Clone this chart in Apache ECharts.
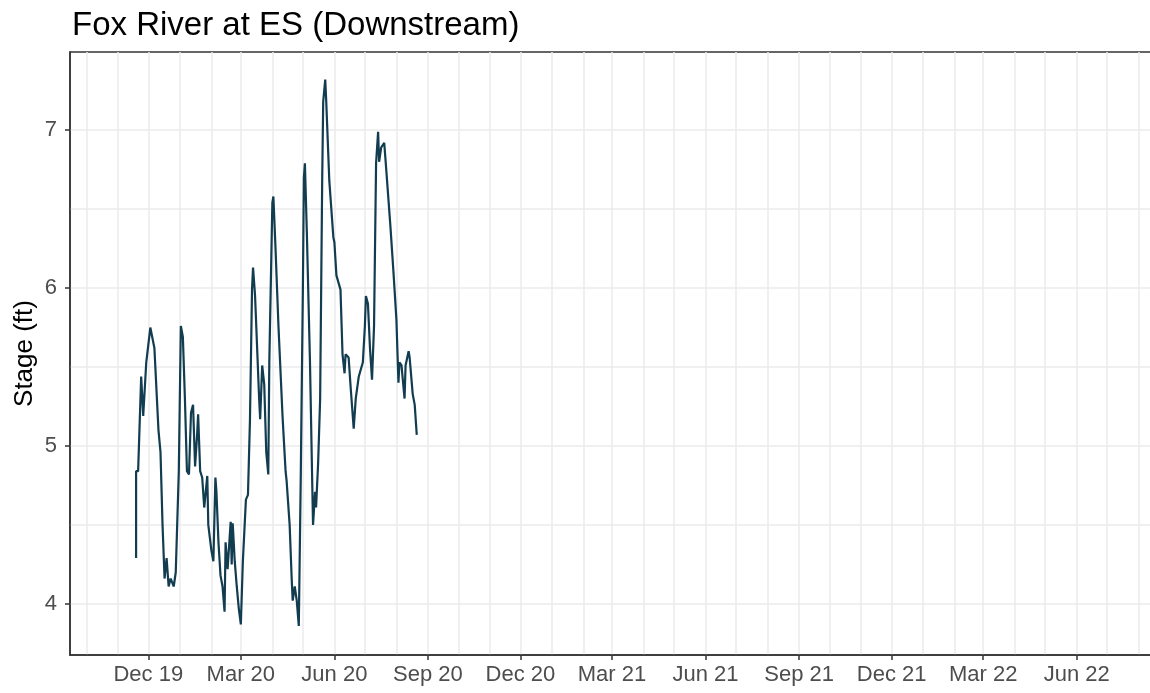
<!DOCTYPE html>
<html>
<head>
<meta charset="utf-8">
<title>Fox River at ES (Downstream)</title>
<script src="https://cdn.jsdelivr.net/npm/echarts@6/dist/echarts.min.js"></script>
<style>
    html, body { margin: 0; padding: 0; background: #fff; overflow: hidden; }
    /* a bit wider than the window so the panel runs off the right edge, as in the original */
    #chart { width: 1160px; height: 693px; }
</style>
</head>
<body>
<div id="chart"></div>
<script type="text/javascript">
// stage readings (ft)
var dates = [
    '2019-11-19', '2019-11-19', '2019-11-21', '2019-11-24', '2019-11-26', '2019-11-29',
    '2019-12-03', '2019-12-07', '2019-12-11', '2019-12-13', '2019-12-15', '2019-12-17',
    '2019-12-19', '2019-12-21', '2019-12-23', '2019-12-26', '2019-12-28', '2019-12-31',
    '2020-01-02', '2020-01-04', '2020-01-06', '2020-01-08', '2020-01-10', '2020-01-12',
    '2020-01-14', '2020-01-16', '2020-01-18', '2020-01-19', '2020-01-21', '2020-01-23',
    '2020-01-25', '2020-01-28', '2020-01-29', '2020-02-01', '2020-02-03', '2020-02-05',
    '2020-02-06', '2020-02-08', '2020-02-10', '2020-02-12', '2020-02-14', '2020-02-15',
    '2020-02-17', '2020-02-20', '2020-02-21', '2020-02-22', '2020-02-24', '2020-02-26',
    '2020-02-28', '2020-03-01', '2020-03-03', '2020-03-06', '2020-03-08', '2020-03-10',
    '2020-03-12', '2020-03-13', '2020-03-15', '2020-03-19', '2020-03-20', '2020-03-22',
    '2020-03-24', '2020-03-26', '2020-03-28', '2020-03-29', '2020-04-01', '2020-04-02',
    '2020-04-04', '2020-04-07', '2020-04-11', '2020-04-14', '2020-04-15', '2020-04-18',
    '2020-04-20', '2020-04-21', '2020-04-23', '2020-04-25', '2020-04-27', '2020-04-29',
    '2020-05-01', '2020-05-02', '2020-05-03', '2020-05-05', '2020-05-08', '2020-05-10',
    '2020-05-11', '2020-05-13', '2020-05-14', '2020-05-16', '2020-05-18', '2020-05-20',
    '2020-05-21', '2020-05-23', '2020-05-24', '2020-05-27', '2020-05-31', '2020-06-01',
    '2020-06-03', '2020-06-07', '2020-06-09', '2020-06-11', '2020-06-12', '2020-06-15',
    '2020-06-17', '2020-06-20', '2020-06-22', '2020-06-25', '2020-06-29', '2020-07-01',
    '2020-07-02', '2020-07-04', '2020-07-06', '2020-07-08', '2020-07-10', '2020-07-12',
    '2020-07-14', '2020-07-15', '2020-07-17', '2020-07-20', '2020-07-22', '2020-07-26',
    '2020-07-29', '2020-08-01', '2020-08-03', '2020-08-04', '2020-08-06', '2020-08-09',
    '2020-08-10', '2020-08-13', '2020-08-14', '2020-08-17', '2020-08-19', '2020-08-21'
];
var stage = [
    4.29, 4.84, 4.84, 5.44, 5.19, 5.53,
    5.75, 5.62, 5.10, 4.96, 4.50, 4.16,
    4.29, 4.11, 4.16, 4.11, 4.20, 4.84,
    5.76, 5.69, 5.30, 4.84, 4.82, 5.21,
    5.26, 4.87, 5.07, 5.20, 4.84, 4.80,
    4.61, 4.81, 4.50, 4.34, 4.27, 4.80,
    4.71, 4.39, 4.18, 4.11, 3.95, 4.39,
    4.22, 4.52, 4.25, 4.51, 4.27, 4.11,
    3.97, 3.87, 4.27, 4.66, 4.69, 5.17,
    5.99, 6.13, 5.95, 5.30, 5.17, 5.51,
    5.39, 4.96, 4.82, 5.53, 6.54, 6.58,
    6.27, 5.76, 5.19, 4.84, 4.78, 4.50,
    4.16, 4.02, 4.11, 4.02, 3.86, 4.84,
    5.99, 6.70, 6.79, 6.33, 5.53, 4.84,
    4.50, 4.71, 4.61, 4.89, 5.30, 6.68,
    7.18, 7.32, 7.18, 6.68, 6.32, 6.29,
    6.08, 5.99, 5.58, 5.46, 5.58, 5.56,
    5.37, 5.11, 5.30, 5.44, 5.53, 5.76,
    5.95, 5.90, 5.62, 5.42, 5.76, 6.79,
    6.99, 6.80, 6.89, 6.92, 6.75, 6.40,
    6.11, 5.80, 5.40, 5.53, 5.51, 5.30,
    5.51, 5.60, 5.56, 5.33, 5.26, 5.07
];

// axis ticks
var xTickDates = ['2019-12-01', '2020-03-01', '2020-06-01', '2020-09-01', '2020-12-01', '2021-03-01',
                  '2021-06-01', '2021-09-01', '2021-12-01', '2022-03-01', '2022-06-01'];
var xTickLabels = ['Dec 19', 'Mar 20', 'Jun 20', 'Sep 20', 'Dec 20', 'Mar 21',
                   'Jun 21', 'Sep 21', 'Dec 21', 'Mar 22', 'Jun 22'];
var xMin = '2019-09-15', xMax = '2022-08-17';
var yTicks = [4, 5, 6, 7];
var yGrid = [4, 4.5, 5, 5.5, 6, 6.5, 7];
var yMin = 3.676, yMax = 7.495;

function toTime(s) {
    var p = s.split('-');
    return new Date(+p[0], +p[1] - 1, +p[2]).getTime();
}

// monthly gridlines, Oct 2019 .. Aug 2022
var monthGrid = [];
for (var y = 2019, m = 9; y < 2022 || (y === 2022 && m <= 7); m++) {
    if (m > 11) { m = 0; y++; }
    monthGrid.push(new Date(y, m, 1).getTime());
}

var majorTimes = xTickDates.map(toTime);
var labelOf = {};
majorTimes.forEach(function (t, i) { labelOf[t] = xTickLabels[i]; });

var seriesData = dates.map(function (d, i) { return [toTime(d), stage[i]]; });

var FONT = "'Liberation Sans', Arial, sans-serif";
var AXIS_COLOR = '#333333';
var GRID_COLOR = '#ebebeb';

var chart = echarts.init(document.getElementById('chart'), null, { renderer: 'canvas' });

var option = {
    animation: false,
    backgroundColor: '#ffffff',
    title: {
        text: 'Fox River at ES (Downstream)',
        left: 67,
        top: 4,
        textStyle: { fontFamily: FONT, fontSize: 33, fontWeight: 'normal', color: '#000' }
    },
    grid: {
        left: 70, top: 52, right: 5, bottom: 38,
        show: true, borderColor: AXIS_COLOR, borderWidth: 1.5, backgroundColor: '#fff'
    },
    xAxis: [{
        type: 'value',
        min: toTime(xMin), max: toTime(xMax),
        axisLine: { show: true, onZero: false, lineStyle: { color: AXIS_COLOR, width: 1.5 } },
        axisTick: { show: true, length: 5, lineStyle: { color: AXIS_COLOR, width: 1.5 }, customValues: majorTimes },
        axisLabel: {
            customValues: majorTimes,
            margin: 9,
            color: '#4d4d4d', fontFamily: FONT, fontSize: 22,
            formatter: function (v) { return labelOf[v] || ''; }
        },
        splitLine: { show: false }
    }, {
        type: 'value',
        min: toTime(xMin), max: toTime(xMax),
        axisLine: { show: false },
        axisTick: { show: false, customValues: monthGrid },
        axisLabel: { show: false },
        splitLine: { show: true, lineStyle: { color: GRID_COLOR, width: 1.5 } }
    }],
    yAxis: [{
        type: 'value',
        min: yMin, max: yMax,
        name: 'Stage (ft)',
        nameLocation: 'middle',
        nameGap: 32,
        nameMoveOverlap: false,
        nameTextStyle: { fontFamily: FONT, fontSize: 26, color: '#000' },
        axisLine: { show: true, onZero: false, lineStyle: { color: AXIS_COLOR, width: 1.5 } },
        axisTick: { show: true, length: 5, lineStyle: { color: AXIS_COLOR, width: 1.5 }, customValues: yTicks },
        axisLabel: { customValues: yTicks, margin: 13, color: '#4d4d4d', fontFamily: FONT, fontSize: 22 },
        splitLine: { show: false }
    }, {
        type: 'value',
        min: yMin, max: yMax,
        axisLine: { show: false },
        axisTick: { show: false, customValues: yGrid },
        axisLabel: { show: false },
        splitLine: { show: true, lineStyle: { color: GRID_COLOR, width: 1.5 } }
    }],
    series: [{
        type: 'line',
        xAxisIndex: 0,
        yAxisIndex: 0,
        data: seriesData,
        showSymbol: false,
        lineStyle: { color: '#123c50', width: 2.2 },
        itemStyle: { color: '#123c50' }
    }]
};

chart.setOption(option);
</script>
</body>
</html>
